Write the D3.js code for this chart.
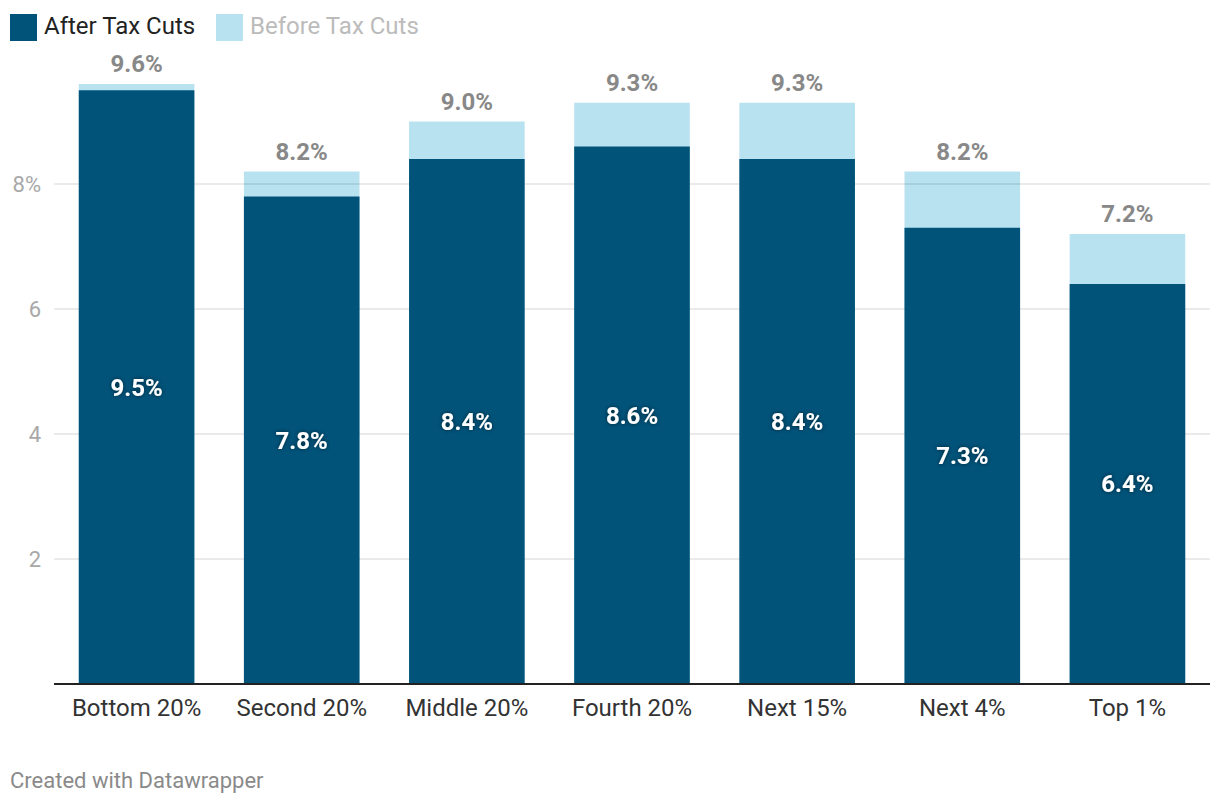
<!DOCTYPE html>
<html><head><meta charset="utf-8">
<script src="https://cdn.jsdelivr.net/npm/d3@7"></script>
<style>body{margin:0;background:#fff;font-family:Roboto,sans-serif}</style>
</head><body><svg id="c" width="1220" height="806"></svg>
<script>
const categories = ["Bottom 20%","Second 20%","Middle 20%","Fourth 20%","Next 15%","Next 4%","Top 1%"];
const afterTax = [9.5,7.8,8.4,8.6,8.4,7.3,6.4];
const beforeTax = [9.6,8.2,9.0,9.3,9.3,8.2,7.2];
const yTicks = [2,4,6,8];
const seriesNames = ["After Tax Cuts","Before Tax Cuts"];

const svg = d3.select("#c");
const x = d3.scaleBand().domain(categories).range([54,1210]).paddingInner(0.3).paddingOuter(0.15);
const y = d3.scaleLinear().domain([0,8]).range([684,184]);
const dark = "#01537a", light = "#b9e2f0";

const g = svg.append("g");
g.selectAll(".b").data(categories).join("rect")
  .attr("x",d=>x(d)).attr("width",x.bandwidth())
  .attr("y",(d,i)=>y(beforeTax[i])).attr("height",(d,i)=>y(0)-y(beforeTax[i]))
  .attr("fill",light);

// grid
svg.append("g").selectAll("line").data(yTicks).join("line")
  .attr("x1",54).attr("x2",1210).attr("y1",d=>y(d)).attr("y2",d=>y(d))
  .attr("stroke","#000").attr("stroke-opacity",0.11).attr("stroke-width",1.5);
svg.append("g").selectAll("text").data(yTicks).join("text")
  .attr("x",41).attr("y",d=>y(d)).attr("dy","0.35em").attr("text-anchor","end")
  .attr("font-size",22).attr("fill","#a8a8a8").text(d=>d===8?d+"%":d);

svg.append("g").selectAll(".a").data(categories).join("rect")
  .attr("x",d=>x(d)).attr("width",x.bandwidth())
  .attr("y",(d,i)=>y(afterTax[i])).attr("height",(d,i)=>y(0)-y(afterTax[i]))
  .attr("fill",dark);

// axis line
svg.append("line").attr("x1",54).attr("x2",1210).attr("y1",684).attr("y2",684)
  .attr("stroke","#222").attr("stroke-width",2);

// category labels
svg.append("g").selectAll("text").data(categories).join("text")
  .attr("x",d=>x(d)+x.bandwidth()/2).attr("y",708).attr("dy","0.35em")
  .attr("text-anchor","middle").attr("font-size",24).attr("fill","#333").text(d=>d);

// top labels
svg.append("g").selectAll("text").data(categories).join("text")
  .attr("x",d=>x(d)+x.bandwidth()/2).attr("y",(d,i)=>y(beforeTax[i])-20).attr("dy","0.35em")
  .attr("text-anchor","middle").attr("font-size",24).attr("font-weight","bold")
  .attr("fill","#888").text((d,i)=>beforeTax[i].toFixed(1)+"%");

// inner labels
const defs = svg.append("defs");
const f = defs.append("filter").attr("id","sh").attr("x","-20%").attr("y","-40%").attr("width","140%").attr("height","180%");
f.append("feDropShadow").attr("dx",0).attr("dy",0).attr("stdDeviation",2).attr("flood-color","#000").attr("flood-opacity",0.6);
svg.append("g").selectAll("text").data(categories).join("text")
  .attr("x",d=>x(d)+x.bandwidth()/2).attr("y",(d,i)=>(y(afterTax[i])+y(0))/2).attr("dy","0.35em")
  .attr("text-anchor","middle").attr("font-size",24).attr("font-weight","bold")
  .attr("fill","#fff").attr("filter","url(#sh)").text((d,i)=>afterTax[i].toFixed(1)+"%");

// legend
const lg = svg.append("g");
lg.append("rect").attr("x",10).attr("y",14).attr("width",27).attr("height",27).attr("fill",dark);
lg.append("text").attr("x",44).attr("y",26).attr("dy","0.35em").attr("font-size",24).attr("fill","#222").text(seriesNames[0]);
lg.append("rect").attr("x",216).attr("y",14).attr("width",27).attr("height",27).attr("fill",light);
lg.append("text").attr("x",250).attr("y",26).attr("dy","0.35em").attr("font-size",24).attr("fill","#bbb").text(seriesNames[1]);

svg.append("text").attr("x",10).attr("y",780).attr("dy","0.35em").attr("font-size",22).attr("fill","#8a8a8a").text("Created with Datawrapper");
</script></body></html>
